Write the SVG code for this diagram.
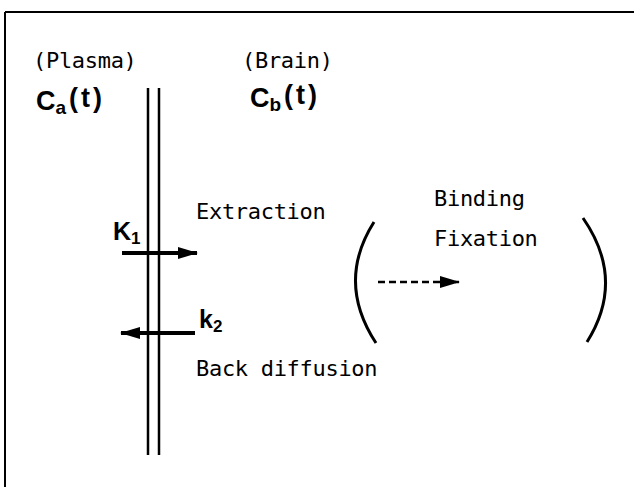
<svg xmlns="http://www.w3.org/2000/svg" width="634" height="487" viewBox="0 0 634 487">
<defs>
<style>
.m{font-family:"DejaVu Sans Mono","Liberation Mono",monospace;font-size:22px;letter-spacing:-0.3px;fill:#000}
.b{font-family:"Liberation Sans",Arial,sans-serif;font-weight:bold;fill:#000}
.ln{stroke:#000;fill:none}
</style>
<marker id="ah" markerWidth="20" markerHeight="12" refX="19" refY="6" orient="auto" markerUnits="userSpaceOnUse">
<path d="M0,0 L20,6 L0,12 Z" fill="#000"/>
</marker>
</defs>
<rect width="634" height="487" fill="#fff"/>
<g id="frame">
<line class="ln" x1="5" y1="12" x2="634" y2="12" stroke-width="2"/>
<line class="ln" x1="5" y1="12" x2="5" y2="487" stroke-width="2"/>
</g>
<g id="plasma">
<text class="m" x="33" y="68">(Plasma)</text>
<text class="b" x="36" y="110" font-size="27">C<tspan font-size="19" dy="4">a</tspan><tspan dy="-7" dx="3" letter-spacing="3">(t)</tspan></text>
</g>
<g id="brain">
<text class="m" x="242" y="68">(Brain)</text>
<text class="b" x="250" y="107" font-size="27">C<tspan font-size="19" dy="4">b</tspan><tspan dy="-7" dx="3" letter-spacing="3">(t)</tspan></text>
</g>
<g id="membrane">
<line class="ln" x1="148" y1="88" x2="148" y2="455" stroke-width="2.5"/>
<line class="ln" x1="159" y1="88" x2="159" y2="455" stroke-width="2.5"/>
</g>
<g id="bracket">
<path class="ln" d="M374,222 Q336,282 376,343" stroke-width="3"/>
<path class="ln" d="M583,218 Q626,280 587,342" stroke-width="3"/>
<text class="m" x="434" y="206">Binding</text>
<text class="m" x="434" y="246">Fixation</text>
</g>
<g id="labels">
<text class="m" x="196" y="219">Extraction</text>
<text class="m" x="196" y="376">Back diffusion</text>
<text class="b" x="113" y="240" font-size="25">K<tspan font-size="17" dy="4">1</tspan></text>
<text class="b" x="199" y="328" font-size="25">k<tspan font-size="17" dy="4">2</tspan></text>
</g>
<g id="connectors">
<line class="ln" x1="122" y1="253" x2="197" y2="253" stroke-width="4" marker-end="url(#ah)"/>
<line class="ln" x1="195" y1="333" x2="121" y2="333" stroke-width="4" marker-end="url(#ah)"/>
<line class="ln" x1="378" y1="282" x2="459" y2="282" stroke-width="2.5" stroke-dasharray="7,4" marker-end="url(#ah)"/>
</g>
</svg>
